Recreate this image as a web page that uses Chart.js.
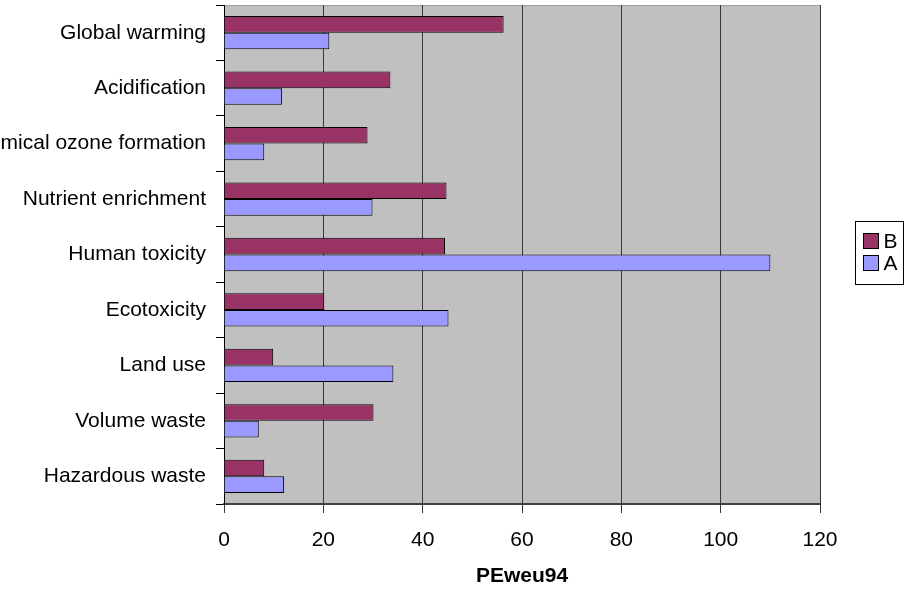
<!DOCTYPE html>
<html>
<head>
<meta charset="utf-8">
<script src="https://cdn.jsdelivr.net/npm/chart.js@4"></script>
<style>
  html, body { margin: 0; padding: 0; background: #fff; }
  #wrap { width: 904px; height: 589px; }
</style>
</head>
<body>
<div id="wrap"><canvas id="c" width="904" height="589"></canvas></div>
<script>
// Impact categories (top to bottom) and normalised scores in PEweu94
const categories = [
  'Global warming',
  'Acidification',
  'Photochemical ozone formation',
  'Nutrient enrichment',
  'Human toxicity',
  'Ecotoxicity',
  'Land use',
  'Volume waste',
  'Hazardous waste'
];
const seriesB = [56.3, 33.5, 28.9, 44.8, 44.5, 20.2, 9.9, 30.1, 8.1];
const seriesA = [21.2, 11.7, 8.1, 29.9, 110.0, 45.2, 34.1, 7.0, 12.1];
const xTicks = [0, 20, 40, 60, 80, 100, 120];
const axisTitle = 'PEweu94';

const FONT = "'Liberation Sans', Arial, Helvetica, sans-serif";

// Grey plot background
const plotBackground = {
  id: 'plotBackground',
  beforeDraw(chart) {
    const { ctx, chartArea: a } = chart;
    ctx.save();
    ctx.fillStyle = '#C0C0C0';
    ctx.fillRect(a.left, a.top, a.right - a.left, a.bottom - a.top);
    ctx.strokeStyle = '#a0a0a0';
    ctx.lineWidth = 1;
    ctx.beginPath();
    ctx.moveTo(a.left, a.top + 0.5);
    ctx.lineTo(a.right, a.top + 0.5);
    ctx.stroke();
    ctx.restore();
  }
};

// Boxed legend on the right, built from the datasets
const boxLegend = {
  id: 'boxLegend',
  afterDraw(chart) {
    const { ctx, chartArea: a } = chart;
    const ds = chart.data.datasets;
    const rowH = 22, pad = 8, sw = 15;
    const boxW = 48, boxH = ds.length * rowH + 2 * pad + 3;
    const x0 = a.right + 35.5;
    const y0 = Math.round((a.top + a.bottom) / 2 - boxH / 2) - 1.5;
    ctx.save();
    ctx.fillStyle = '#fff';
    ctx.fillRect(x0, y0, boxW, boxH);
    ctx.strokeStyle = '#000';
    ctx.lineWidth = 1;
    ctx.strokeRect(x0, y0, boxW, boxH);
    ctx.font = '21px ' + FONT;
    ctx.textBaseline = 'middle';
    ds.forEach((d, i) => {
      const cy = y0 + pad + 3 + i * rowH + sw / 2 + 1;
      ctx.fillStyle = d.backgroundColor;
      ctx.fillRect(x0 + 8, cy - sw / 2, sw, sw);
      ctx.strokeStyle = '#000';
      ctx.strokeRect(x0 + 8, cy - sw / 2, sw, sw);
      ctx.fillStyle = '#000';
      ctx.fillText(d.label, x0 + 28, cy + 1);
    });
    ctx.restore();
  }
};

new Chart(document.getElementById('c'), {
  type: 'bar',
  data: {
    labels: categories,
    datasets: [
      { label: 'B', data: seriesB, backgroundColor: '#993366', borderColor: '#000', borderWidth: 1 },
      { label: 'A', data: seriesA, backgroundColor: '#9999FF', borderColor: '#000', borderWidth: 1 }
    ]
  },
  options: {
    indexAxis: 'y',
    responsive: false,
    animation: false,
    devicePixelRatio: 1,
    categoryPercentage: 0.6,
    barPercentage: 1.0,
    layout: { padding: { top: 5, right: 84, left: 0, bottom: 0 } },
    plugins: {
      legend: { display: false },
      tooltip: { enabled: false }
    },
    scales: {
      x: {
        type: 'linear',
        min: 0,
        max: 120,
        afterBuildTicks(scale) { scale.ticks = xTicks.map(v => ({ value: v })); },
        afterFit(scale) { scale.height = 85; scale.paddingLeft = 0; scale.paddingRight = 0; },
        grid: {
          color: '#383838',
          lineWidth: 1,
          drawTicks: true,
          tickLength: 9,
          tickColor: '#383838'
        },
        border: { display: true, color: '#404040', width: 2 },
        ticks: {
          color: '#000',
          font: { family: FONT, size: 21 },
          padding: 15
        },
        title: {
          display: true,
          text: axisTitle,
          color: '#000',
          font: { family: FONT, size: 21, weight: 'bold' },
          padding: { top: 7, bottom: 0 }
        }
      },
      y: {
        type: 'category',
        offset: true,
        afterFit(scale) { scale.width = 224; scale.paddingTop = 0; scale.paddingBottom = 0; },
        grid: {
          offset: true,
          drawOnChartArea: false,
          drawTicks: true,
          tickLength: 8,
          tickColor: '#000'
        },
        border: { display: true, color: '#000', width: 1 },
        ticks: {
          color: '#000',
          font: { family: FONT, size: 21 },
          padding: 10,
          autoSkip: false
        }
      }
    }
  },
  plugins: [plotBackground, boxLegend]
});
</script>
</body>
</html>
